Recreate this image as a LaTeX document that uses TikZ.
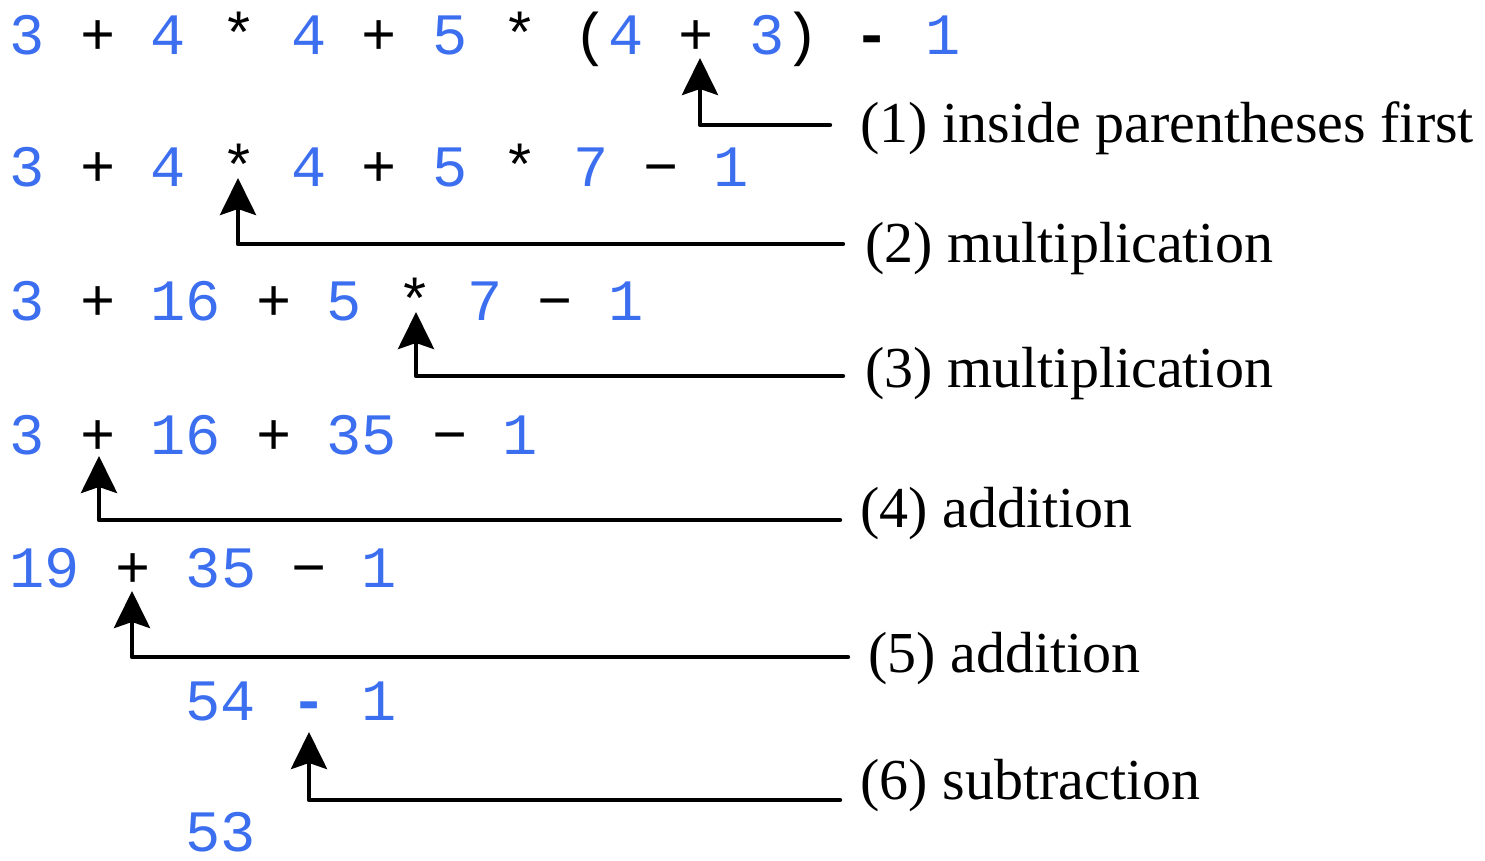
\documentclass[tikz,border=0pt]{standalone}
\usepackage{fontspec}
\setmainfont{Liberation Serif}
\newfontfamily\exprfont{Liberation Mono}
\usetikzlibrary{arrows.meta}
\definecolor{numblue}{RGB}{60,110,240}
\newcommand\nb[1]{\textcolor{numblue}{#1}}
\begin{document}
\begin{tikzpicture}[x=0.5pt,y=-0.5pt,
  expr/.style={anchor=base west,inner sep=0pt,font=\exprfont\fontsize{29.33pt}{30pt}\selectfont},
  lab/.style={anchor=base west,inner sep=0pt,font=\fontsize{29pt}{30pt}\selectfont},
  callout/.style={line width=2.2pt,line cap=round,line join=round,
    -{Stealth[length=18.5pt,width=18pt,inset=3pt]}}]
\useasboundingbox (0,0) rectangle (1485,861);
% expression rows
\node[expr] (r1) at (9.4,55)  {\nb{3} + \nb{4} * \nb{4} + \nb{5} * (\nb{4} + \nb{3}) {\bfseries-} \nb{1}};
\node[expr] (r2) at (9.4,187) {\nb{3} + \nb{4} * \nb{4} + \nb{5} * \nb{7} − \nb{1}};
\node[expr] (r3) at (9.4,321) {\nb{3} + \nb{16} + \nb{5} * \nb{7} − \nb{1}};
\node[expr] (r4) at (9.4,455) {\nb{3} + \nb{16} + \nb{35} − \nb{1}};
\node[expr] (r5) at (9.4,588) {\nb{19} + \nb{35} − \nb{1}};
\node[expr] (r6) at (185.4,720) {\nb{54} \nb{\bfseries-} \nb{1}};
\node[expr] (r7) at (185.4,851) {\nb{53}};
% labels
\node[lab] (l1) at (860,143) {(1) inside parentheses first};
\node[lab] (l2) at (865,263) {(2) multiplication};
\node[lab] (l3) at (865,388) {(3) multiplication};
\node[lab] (l4) at (860,528) {(4) addition};
\node[lab] (l5) at (868,672) {(5) addition};
\node[lab] (l6) at (860,799) {(6) subtraction};
% connector ends
\coordinate (s1) at (830,125); \coordinate (t1) at (700,58);
\coordinate (s2) at (843,244); \coordinate (t2) at (238,178);
\coordinate (s3) at (843,376); \coordinate (t3) at (416,312);
\coordinate (s4) at (840,520); \coordinate (t4) at (99,456);
\coordinate (s5) at (848,657); \coordinate (t5) at (132,591);
\coordinate (s6) at (840,800); \coordinate (t6) at (309,732);
\draw[callout] (s1) -| (t1);
\draw[callout] (s2) -| (t2);
\draw[callout] (s3) -| (t3);
\draw[callout] (s4) -| (t4);
\draw[callout] (s5) -| (t5);
\draw[callout] (s6) -| (t6);
\end{tikzpicture}
\end{document}
